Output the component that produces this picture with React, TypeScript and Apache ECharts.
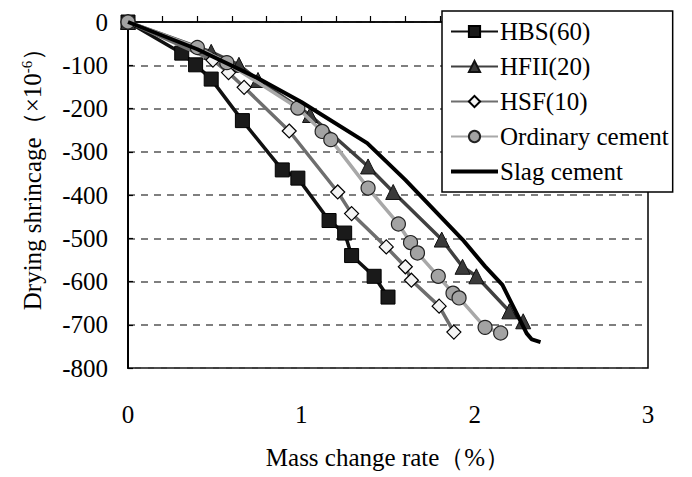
import React, { useEffect, useRef } from "react";
import * as echarts from "echarts";

// Mass change rate (%) vs drying shrinkage (x10^-6)
const hbsData = [[0, 0], [0.31, -72], [0.39, -99], [0.48, -132], [0.66, -228], [0.89, -342], [0.98, -361], [1.16, -459], [1.25, -488], [1.29, -540], [1.42, -588], [1.5, -636]];
const hfiiData = [[0, 0], [0.48, -69], [0.64, -99], [0.75, -134], [1.05, -215], [1.385, -334], [1.53, -393], [1.81, -503], [1.93, -566], [2.01, -588], [2.2, -669], [2.28, -692]];
const hsfData = [[0, 0], [0.49, -88], [0.58, -117], [0.67, -151], [0.93, -252], [1.21, -393], [1.29, -443], [1.49, -520], [1.6, -566], [1.635, -597], [1.795, -657], [1.88, -717]];
const ordinaryData = [[0, 0], [0.4, -59], [0.57, -94], [0.98, -199], [1.12, -253], [1.17, -272], [1.385, -384], [1.56, -467], [1.63, -510], [1.67, -534], [1.79, -588], [1.875, -627], [1.91, -638], [2.06, -706], [2.15, -719]];
const slagData = [[0, 0], [0.4, -63], [0.75, -130], [1.0, -185], [1.38, -280], [1.6, -365], [1.93, -503], [2.06, -565], [2.16, -608], [2.3, -720], [2.33, -734], [2.38, -740]];

const seriesNames = ["HBS(60)", "HFII(20)", "HSF(10)", "Ordinary cement", "Slag cement"];
const xTitle = "Mass change rate（%）";
const yTitle = "Drying shrincage（×10{sup|-6}）";

const FONT = "Liberation Serif";
const SLAG_ICON = "path://M0,0L0.01,0L0.01,0.01Z M0,5L47,5L47,9L0,9Z M0,14L0.01,14L0.01,13.99Z";

export default function App() {
  const ref = useRef<HTMLDivElement>(null);
  useEffect(() => {
    if (!ref.current) return;
    const chart = echarts.init(ref.current, null, { renderer: "svg" });
    chart.setOption({
      animation: false,
      backgroundColor: "#ffffff",
      textStyle: { fontFamily: FONT, color: "#000" },
      grid: {
        left: 128,
        top: 22,
        right: 44,
        bottom: 109,
        show: true,
        borderColor: "#000",
        borderWidth: 1.5,
        backgroundColor: "transparent",
      },
      legend: {
        orient: "vertical",
        left: 442,
        top: 11,
        padding: [8, 4, 8, 8],
        itemWidth: 47,
        itemHeight: 14,
        itemGap: 10,
        backgroundColor: "#fff",
        borderColor: "#000",
        borderWidth: 1.5,
        textStyle: { fontFamily: FONT, fontSize: 25, color: "#000", padding: [0, 0, 0, -3] },
        data: [
          seriesNames[0],
          seriesNames[1],
          seriesNames[2],
          seriesNames[3],
          { name: seriesNames[4], icon: SLAG_ICON },
        ],
        z: 10,
      },
      xAxis: {
        type: "value",
        min: 0,
        max: 3,
        interval: 0.2,
        axisLine: { show: true, lineStyle: { color: "#000", width: 1.5 } },
        axisTick: { show: true, inside: true, length: 6, lineStyle: { color: "#000", width: 1.2 } },
        axisLabel: {
          interval: 0,
          margin: 34,
          fontFamily: FONT,
          fontSize: 25,
          color: "#000",
          formatter: (v: number) => (Math.abs(v - Math.round(v)) < 1e-6 ? String(Math.round(v)) : ""),
        },
        splitLine: { show: false },
      },
      yAxis: {
        type: "value",
        min: -800,
        max: 0,
        interval: 100,
        axisLine: { show: true, lineStyle: { color: "#000", width: 2 } },
        axisTick: { show: true, inside: true, length: 5, lineStyle: { color: "#000", width: 1.2 } },
        axisLabel: { margin: 20, fontFamily: FONT, fontSize: 25, color: "#000" },
        splitLine: { show: true, lineStyle: { color: "#555", width: 1.5, type: [7, 6] } },
      },
      graphic: [
        {
          type: "text",
          x: 388,
          y: 457,
          style: { text: xTitle, fontFamily: FONT, fontSize: 25, fill: "#000", align: "center", verticalAlign: "middle" },
        },
        {
          type: "text",
          x: 32,
          y: 173,
          rotation: Math.PI / 2,
          style: {
            text: yTitle,
            fontFamily: FONT,
            fontSize: 25,
            fill: "#000",
            align: "center",
            verticalAlign: "middle",
            rich: { sup: { fontSize: 15, fontFamily: FONT, verticalAlign: "top", fill: "#000" } },
          },
        },
      ],
      series: [
        {
          name: seriesNames[0],
          type: "line",
          data: hbsData,
          symbol: "rect",
          symbolSize: 14,
          lineStyle: { color: "#111", width: 3.5 },
          itemStyle: { color: "#1a1a1a", borderColor: "#000", borderWidth: 1 },
          z: 2,
        },
        {
          name: seriesNames[1],
          type: "line",
          data: hfiiData,
          symbol: "triangle",
          symbolSize: 15,
          lineStyle: { color: "#404040", width: 3.5 },
          itemStyle: { color: "#3a3a3a", borderColor: "#111", borderWidth: 1 },
          z: 3,
        },
        {
          name: seriesNames[2],
          type: "line",
          data: hsfData,
          symbol: "diamond",
          symbolSize: 14,
          lineStyle: { color: "#6e6e6e", width: 3.5 },
          itemStyle: { color: "#f4f4f4", borderColor: "#000", borderWidth: 1.2 },
          z: 4,
        },
        {
          name: seriesNames[3],
          type: "line",
          data: ordinaryData,
          symbol: "circle",
          symbolSize: 14,
          lineStyle: { color: "#a8a8a8", width: 3.5 },
          itemStyle: { color: "#a3a3a3", borderColor: "#222", borderWidth: 1.2 },
          z: 5,
        },
        {
          name: seriesNames[4],
          type: "line",
          data: slagData,
          symbol: "none",
          showSymbol: false,
          lineStyle: { color: "#000", width: 4 },
          itemStyle: { color: "#000" },
          z: 6,
        },
      ],
    });
    return () => chart.dispose();
  }, []);
  return <div ref={ref} style={{ position: "fixed", left: 0, top: 0, width: 692, height: 477 }} />;
}
